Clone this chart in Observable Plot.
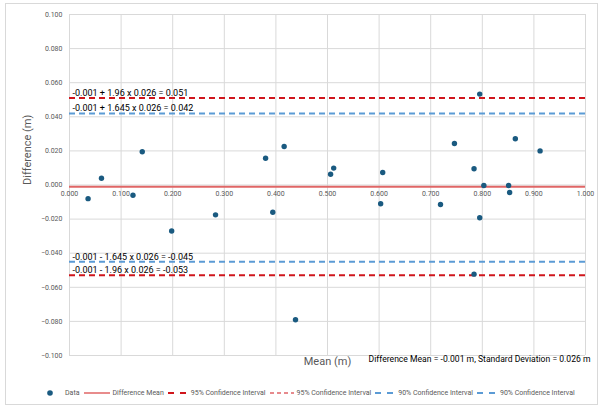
<!DOCTYPE html>
<html>
<head>
<meta charset="utf-8">
<script src="https://cdn.jsdelivr.net/npm/d3@7"></script>
<script src="https://cdn.jsdelivr.net/npm/@observablehq/plot@0.6"></script>
<style>
  body { margin: 0; background: #fff; font-family: Roboto, "Liberation Sans", sans-serif; }
  #frame { position: absolute; left: 5px; top: 3px; width: 591px; height: 400px; border: 1px solid #d9d9d9; }
  #chart { position: absolute; left: 0; top: 0; }
  #legend { position: absolute; left: 45px; top: 389px; display: flex; align-items: center; font-size: 7px; color: #595959; white-space: nowrap; }
  #legend .item { display: flex; align-items: center; margin-right: 4px; }
  #legend svg { margin-right: 2px; }
</style>
</head>
<body>
<div id="frame"></div>
<div id="chart"></div>
<div id="legend"></div>
<script>
// Data
const meanX = [0.036, 0.062, 0.123, 0.141, 0.198, 0.283, 0.380, 0.394, 0.416, 0.438, 0.506, 0.512, 0.603, 0.607, 0.719, 0.746, 0.784, 0.795, 0.803, 0.795, 0.784, 0.851, 0.853, 0.864, 0.912];
const diffY = [-0.008, 0.004, -0.006, 0.0195, -0.027, -0.0175, 0.0157, -0.016, 0.0226, -0.079, 0.0063, 0.0099, -0.011, 0.0073, -0.0114, 0.0243, 0.0095, 0.0533, -0.0003, -0.0192, -0.0523, -0.0003, -0.0044, 0.0271, 0.020];

const meanDiff = -0.001;
const sdDiff = 0.026;
const limitValues = [0.051, 0.042, -0.045, -0.053];
const limitLabels = [
  "-0.001 + 1.96 x 0.026 = 0.051",
  "-0.001 + 1.645 x 0.026 = 0.042",
  "-0.001 - 1.645 x 0.026 = -0.045",
  "-0.001 - 1.96 x 0.026 = -0.053"
];
const limitKinds = ["95", "90", "90", "95"];

const xTicks = [0, 0.1, 0.2, 0.3, 0.4, 0.5, 0.6, 0.7, 0.8, 0.9, 1.0];
const yTicks = [-0.1, -0.08, -0.06, -0.04, -0.02, 0, 0.02, 0.04, 0.06, 0.08, 0.1];

const xTitle = "Mean (m)";
const yTitle = "Difference (m)";
const summaryText = "Difference Mean = -0.001 m, Standard Deviation = 0.026 m";

const legendNames = ["Data", "Difference Mean", "95% Confidence Interval", "95% Confidence Interval", "90% Confidence Interval", "90% Confidence Interval"];

const dotColor = "#1a5a80";
const meanColor = "#e06666";
const red95 = "#d0161c";
const blue90 = "#5b9bd5";

const points = meanX.map((x, i) => ({x, y: diffY[i]}));
const limits = limitValues.map((v, i) => ({v, label: limitLabels[i], kind: limitKinds[i]}));
const fmt = d3.format(".3f");

const chart = Plot.plot({
  width: 602,
  height: 382,
  marginTop: 14,
  marginLeft: 69,
  marginRight: 17,
  marginBottom: 27,
  x: {domain: [0, 1], axis: null},
  y: {domain: [-0.1, 0.1], axis: null},
  style: {fontFamily: "Roboto, 'Liberation Sans', sans-serif", background: "transparent"},
  marks: [
    Plot.gridY(yTicks, {stroke: "#d9d9d9", strokeOpacity: 1}),
    Plot.gridX(xTicks, {stroke: "#d9d9d9", strokeOpacity: 1}),
    Plot.axisY(yTicks, {tickSize: 0, tickPadding: 7, tickFormat: fmt, fontSize: 7, fill: "#595959", label: null}),
    Plot.ruleY([meanDiff], {stroke: meanColor, strokeWidth: 2}),
    Plot.ruleY(limits.filter(d => d.kind === "95"), {y: "v", stroke: red95, strokeWidth: 2, strokeDasharray: "6,4"}),
    Plot.ruleY(limits.filter(d => d.kind === "90"), {y: "v", stroke: blue90, strokeWidth: 2, strokeDasharray: "6,4"}),
    Plot.text(xTicks, {x: d => d, y: () => 0, dy: 9, text: d => fmt(d), fontSize: 7, fill: "#595959"}),
    Plot.text(limits, {x: () => 0, y: "v", text: "label", dx: 3, dy: -2, textAnchor: "start", lineAnchor: "bottom", fontSize: 9, fill: "#000"}),
    Plot.dot(points, {x: "x", y: "y", r: 2.7, fill: dotColor, stroke: null}),
    Plot.text([xTitle], {frameAnchor: "bottom", dy: 9, fontSize: 11, fill: "#595959"}),
    Plot.text([yTitle], {frameAnchor: "left", dx: -42, rotate: -90, fontSize: 11, fill: "#595959"}),
    Plot.text([summaryText], {frameAnchor: "bottom-right", textAnchor: "end", dx: 5, dy: 6, fontSize: 8.6, fill: "#000"})
  ]
});
document.getElementById("chart").appendChild(chart);

// Legend
const legend = document.getElementById("legend");
const swatches = [
  `<svg width="10" height="8"><circle cx="5" cy="4" r="2.8" fill="${dotColor}"/></svg>`,
  `<svg width="26" height="8"><line x1="0" y1="4" x2="26" y2="4" stroke="${meanColor}" stroke-width="1.5"/></svg>`,
  `<svg width="20" height="8"><line x1="0" y1="4" x2="20" y2="4" stroke="${red95}" stroke-width="2" stroke-dasharray="6,6"/></svg>`,
  `<svg width="24" height="8"><line x1="0" y1="4" x2="24" y2="4" stroke="${red95}" stroke-width="1.2" stroke-dasharray="4,3"/></svg>`,
  `<svg width="20" height="8"><line x1="0" y1="4" x2="20" y2="4" stroke="${blue90}" stroke-width="2" stroke-dasharray="6,6"/></svg>`,
  `<svg width="20" height="8"><line x1="0" y1="4" x2="20" y2="4" stroke="${blue90}" stroke-width="2" stroke-dasharray="6,6"/></svg>`
];
legendNames.forEach((name, i) => {
  const item = document.createElement("div");
  item.className = "item";
  item.innerHTML = swatches[i] + `<span style="margin-left:${i === 0 ? 8 : 1}px">${name}</span>`;
  legend.appendChild(item);
});
</script>
</body>
</html>
